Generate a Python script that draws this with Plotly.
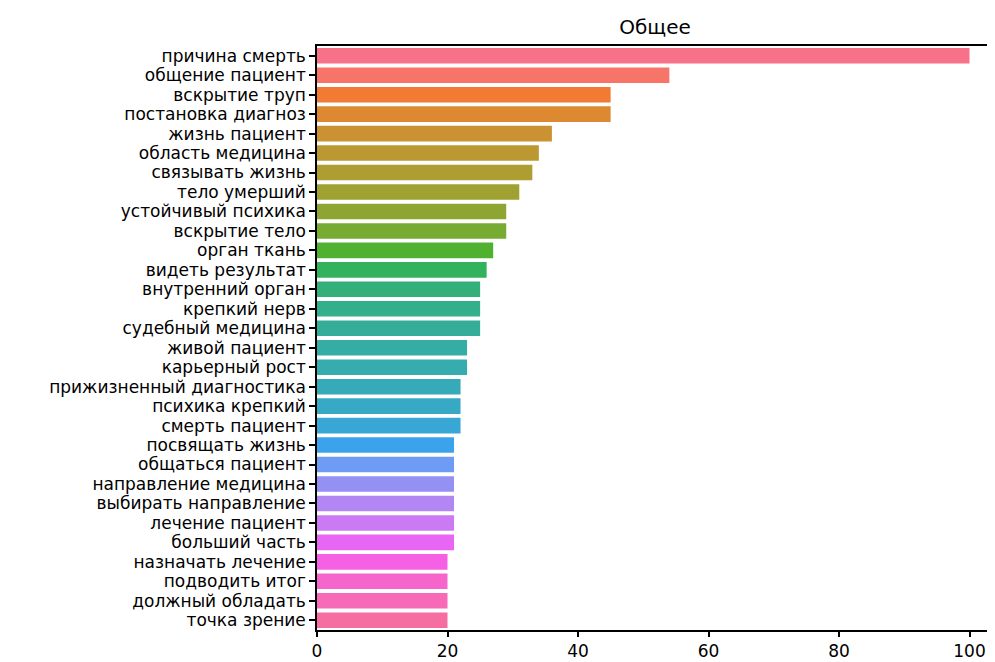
import math
import plotly.graph_objects as go

categories = [
    "причина смерть", "общение пациент", "вскрытие труп", "постановка диагноз",
    "жизнь пациент", "область медицина", "связывать жизнь", "тело умерший",
    "устойчивый психика", "вскрытие тело", "орган ткань", "видеть результат",
    "внутренний орган", "крепкий нерв", "судебный медицина", "живой пациент",
    "карьерный рост", "прижизненный диагностика", "психика крепкий", "смерть пациент",
    "посвящать жизнь", "общаться пациент", "направление медицина", "выбирать направление",
    "лечение пациент", "больший часть", "назначать лечение", "подводить итог",
    "должный обладать", "точка зрение",
]
values = [100, 54, 45, 45, 36, 34, 33, 31, 29, 29, 27, 26, 25, 25, 25, 23, 23, 22, 22, 22,
          21, 21, 21, 21, 21, 21, 20, 20, 20, 20]
x_ticks = [0, 20, 40, 60, 80, 100]
title_text = "Общее"

# --- HUSL palette (as used by seaborn) ---
_M = [[3.2406, -1.5372, -0.4986], [-0.9689, 1.8758, 0.0415], [0.0557, -0.2040, 1.0570]]
_refU, _refV, _kappa, _eps = 0.19784, 0.46834, 903.2963, 0.0088564


def _max_chroma(L, H):
    hrad = math.radians(H)
    sinH, cosH = math.sin(hrad), math.cos(hrad)
    sub1 = (L + 16) ** 3 / 1560896.0
    sub2 = sub1 if sub1 > _eps else L / _kappa
    result = float("inf")
    for m1, m2, m3 in _M:
        top = (0.99915 * m1 + 1.05122 * m2 + 1.14460 * m3) * sub2
        rb = 0.86330 * m3 - 0.17266 * m2
        lb = 0.12949 * m3 - 0.38848 * m1
        bottom = (rb * sinH + lb * cosH) * sub2
        for t in (0.0, 1.0):
            C = L * (top - 1.05122 * t) / (bottom + 0.17266 * sinH * t)
            if 0 < C < result:
                result = C
    return result


def _husl_to_rgb(H, S, L):
    C = _max_chroma(L, H) / 100.0 * S
    hrad = math.radians(H)
    U, V = C * math.cos(hrad), C * math.sin(hrad)
    Y = ((L + 16) / 116.0) ** 3 if L > 8 else L / _kappa
    vU = U / (13 * L) + _refU
    vV = V / (13 * L) + _refV
    X = 0 - (9 * Y * vU) / ((vU - 4) * vV - vU * vV)
    Z = (9 * Y - 15 * vV * Y - vV * X) / (3 * vV)
    out = []
    for row in _M:
        c = row[0] * X + row[1] * Y + row[2] * Z
        c = 12.92 * c if c <= 0.0031308 else 1.055 * c ** (1 / 2.4) - 0.055
        out.append(min(max(c, 0.0), 1.0))
    return out


def husl_palette(n, h=0.01, s=0.9, l=0.65):
    cols = []
    for i in range(n):
        hue = ((i / n + h) % 1) * 359
        r, g, b = _husl_to_rgb(hue, s * 99, l * 99)
        cols.append("rgb(%d,%d,%d)" % (round(r * 255), round(g * 255), round(b * 255)))
    return cols


colors = husl_palette(len(categories))

# page body has an 8px margin, so the figure is placed at (8, 8)
W, H = 987, 654
L_M, T_M, R_M, B_M = 309, 38, 2, 32

fig = go.Figure(go.Bar(
    x=values, y=categories, orientation="h",
    marker=dict(color=colors, line=dict(width=0)),
    width=0.8,
))

fig.update_layout(
    width=W, height=H,
    margin=dict(l=L_M, r=R_M, t=T_M, b=B_M, autoexpand=False),
    paper_bgcolor="white", plot_bgcolor="white",
    font=dict(family="DejaVu Sans", size=17, color="black"),
    showlegend=False,
    title=dict(text=title_text, x=(L_M + (W - R_M)) / 2 / W, xanchor="center",
               y=1 - 19 / H, yanchor="middle", font=dict(size=20)),
)
fig.update_xaxes(
    range=[0, 103.6], tickmode="array", tickvals=x_ticks, ticks="outside", ticklen=5,
    tickwidth=1.5, tickcolor="black", showline=True, linecolor="black", linewidth=1.5,
    mirror=True, showgrid=False, zeroline=False, tickfont=dict(size=17), automargin=False,
)
fig.update_yaxes(
    range=[29.5, -0.5], tickmode="array", tickvals=categories, ticktext=categories,
    ticks="outside", ticklen=6, tickwidth=1.5, tickcolor="black",
    showline=True, linecolor="black", linewidth=1.5, showgrid=False, zeroline=False,
    tickfont=dict(size=17), automargin=False,
)

fig.write_html("out.html")
